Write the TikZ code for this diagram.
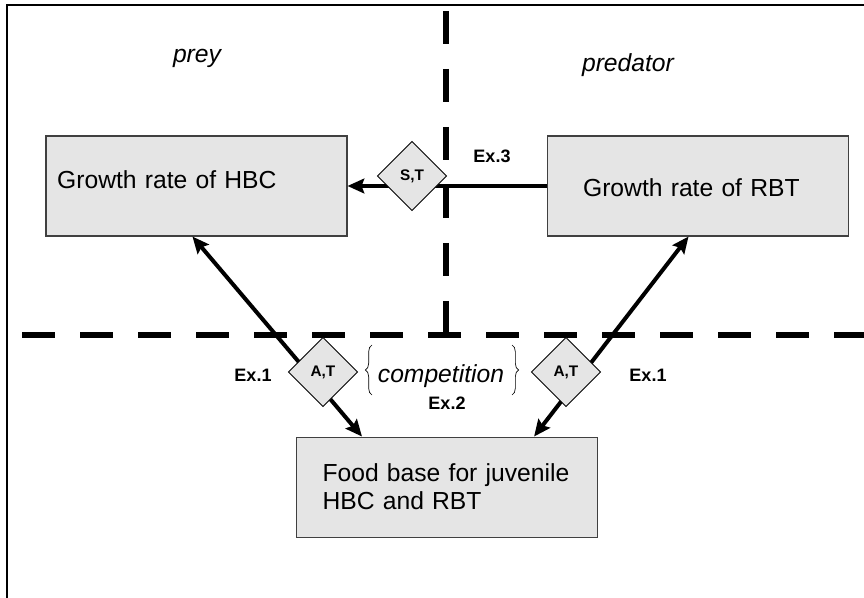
\documentclass[tikz,border=0pt]{standalone}
\usepackage{fontspec}
\setmainfont{Liberation Sans}
\usetikzlibrary{arrows.meta,positioning,shapes.geometric,calc,decorations.pathreplacing}

\begin{document}
\begin{tikzpicture}[
  x=0.75pt, y=-0.75pt,
  font=\fontsize{18.5pt}{21pt}\selectfont,
  >={Stealth[length=12.5pt,width=11pt,inset=2pt]},
  box/.style={
    draw=black!75, fill=black!10,
    line width=0.8pt,
    align=left,
    minimum width=225.75pt, minimum height=75pt
  },
  gate/.style={
    draw, diamond, fill=black!10,
    line width=0.6pt, inner sep=0pt,
    minimum width=52pt, minimum height=52pt,
    font=\fontsize{11.5pt}{13pt}\selectfont\bfseries
  },
  exlabel/.style={font=\fontsize{13.5pt}{15pt}\selectfont\bfseries, inner sep=0pt},
  side/.style={font=\fontsize{18.5pt}{21pt}\selectfont\itshape, inner sep=0pt},
  link/.style={line width=3pt},
  divider/.style={line width=5pt, dash pattern=on 24.75pt off 18.75pt},
  brace/.style={decorate, decoration={brace, amplitude=5pt}, line width=0.5pt}
]
\useasboundingbox (0,0) rectangle (864,598);

% Frame and dividers
\draw[line width=1.5pt] (7,598) -- (7,5) -- (864,5);
\draw[divider] (446,11) -- (446,335);
\draw[divider, dash phase=27pt] (0,335) -- (864,335);

% Boxes
\node[box, inner xsep=8.25pt, text width=209pt, text height=13.5pt, text depth=9pt] (hbc) at (196.5,186)
{Growth rate of HBC};

\node[box, inner xsep=27pt, text width=171.75pt, text height=16.5pt, text depth=0pt, right=149.25pt of hbc] (rbt)
{Growth rate of RBT};

\coordinate (mid) at ($(hbc.south)!0.5!(rbt.south)$);
\node[box, inner xsep=19.5pt, text width=186.75pt, below=150pt of mid] (food)
{Food base for juvenile\\HBC and RBT};

% Connectors
\draw[link, ->] (rbt) -- (hbc);
\draw[link, <->] ([xshift=49.5pt]food.north west) -- ([xshift=110.25pt]hbc.south west);
\draw[link, <->] ([xshift=-48pt]food.north east) -- ([xshift=106.5pt]rbt.south west);

% Diamonds
\node[gate] (st) at (412,176) {S,T};
\node[gate] (atl) at (323,372) {A,T};
\node[gate] (atr) at (566,372) {A,T};

% Labels
\node[side, anchor=base] (prey) at (197,63) {prey};
\node[side, anchor=base] (pred) at (628,72) {predator};
\node[side, anchor=base] (comp) at (441,383) {competition};
\draw[brace] (372,395) -- (372,345);
\draw[brace] (512,345) -- (512,395);

\node[exlabel, anchor=base] (ex3) at (492,163) {Ex.3};
\node[exlabel, anchor=base] (ex1l) at (253,382) {Ex.1};
\node[exlabel, anchor=base] (ex1r) at (648,382) {Ex.1};
\node[exlabel, anchor=base] (ex2) at (447,410) {Ex.2};

\end{tikzpicture}
\end{document}
